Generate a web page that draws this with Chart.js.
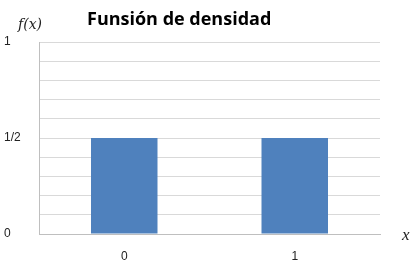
<!DOCTYPE html>
<html>
<head>
<meta charset="utf-8">
<script src="https://cdn.jsdelivr.net/npm/chart.js@4"></script>
<style>
html,body{margin:0;padding:0;background:#fff;}
#wrap{width:414px;height:276px;position:relative;}
</style>
</head>
<body>
<div id="wrap"><canvas id="c" width="414" height="276"></canvas></div>
<script>
const categories = ['0', '1'];
const densityValues = [0.5, 0.5];
const yTickValues = [0, 0.5, 1];
const yTickText = ['0', '1/2', '1'];
const chartTitle = 'Funsión de densidad';
const yAxisName = 'f(x)';
const xAxisName = 'x';

const textPlugin = {
  id: 'texts',
  afterDraw(chart) {
    const ctx = chart.ctx;
    const a = chart.chartArea;
    ctx.save();
    ctx.fillStyle = '#000';
    ctx.textBaseline = 'alphabetic';
    ctx.textAlign = 'left';
    ctx.font = 'bold 18px "Open Sans"';
    ctx.fillText(chartTitle, 87, 25);
    ctx.font = 'italic 14px "DejaVu Serif"';
    ctx.fillStyle = '#222';
    ctx.fillText(yAxisName, 18, 29);
    ctx.font = 'italic 17px "Liberation Serif"';
    ctx.fillText(xAxisName, a.right + 22, a.bottom + 6);
    ctx.restore();
  }
};

new Chart(document.getElementById('c'), {
  type: 'bar',
  data: {
    labels: categories,
    datasets: [{
      data: densityValues,
      backgroundColor: '#4f81bd',
      borderWidth: 0,
      barPercentage: 0.39,
      categoryPercentage: 1
    }]
  },
  options: {
    responsive: false,
    animation: false,
    layout: { padding: { top: 42, right: 34, left: 4, bottom: 0 } },
    plugins: { legend: { display: false }, title: { display: false }, tooltip: { enabled: false } },
    scales: {
      x: {
        grid: { display: false, drawTicks: false },
        border: { display: true, color: '#bfbfbf', width: 1 },
        ticks: { padding: 15, color: '#222', font: { family: 'Liberation Sans', size: 12 } },
        afterFit(s) { s.height = 42; }
      },
      y: {
        min: 0, max: 1,
        grid: { color: '#d9d9d9', lineWidth: 1, drawTicks: false },
        border: { display: true, color: '#bfbfbf', width: 1 },
        ticks: {
          stepSize: 0.1,
          crossAlign: 'far',
          padding: 0,
          color: '#222',
          font: { family: 'Liberation Sans', size: 12 },
          callback(v) {
            for (let i = 0; i < yTickValues.length; i++) {
              if (Math.abs(v - yTickValues[i]) < 1e-6) return yTickText[i];
            }
            return '';
          }
        },
        afterFit(s) { s.width = 35; }
      }
    }
  },
  plugins: [textPlugin]
});
</script>
</body>
</html>
